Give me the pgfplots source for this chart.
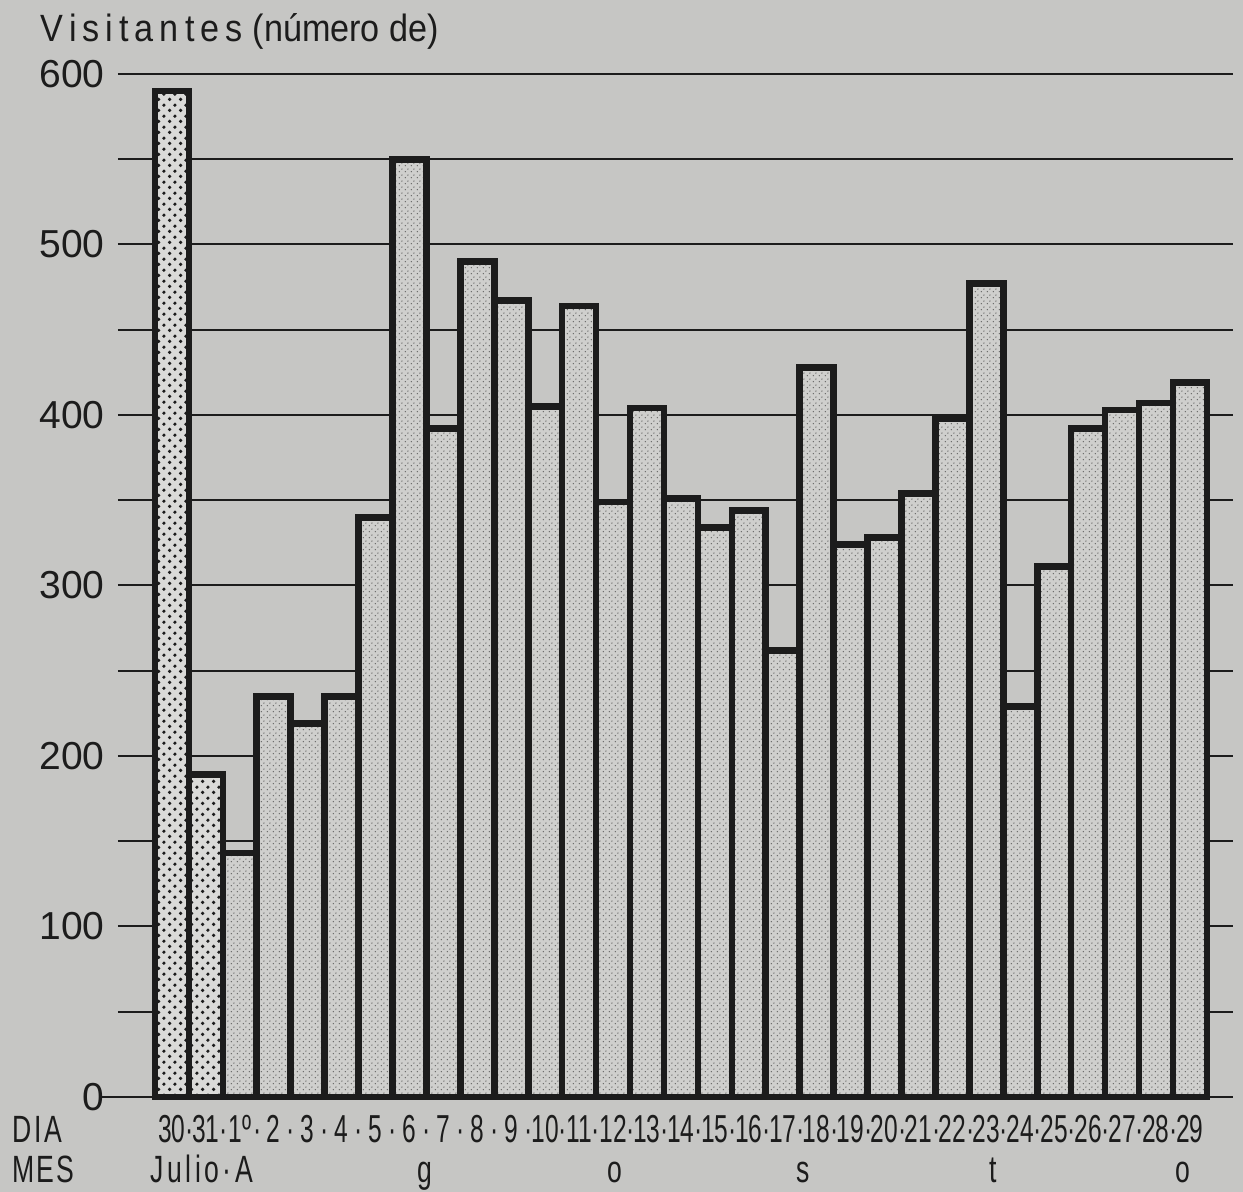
\documentclass[border=0pt]{standalone}
\usepackage{fontspec}
\setmainfont{Liberation Sans}
\newfontfamily\cond[FakeStretch=0.7]{Liberation Sans}
\newfontfamily\daysfont[FakeStretch=0.63]{Liberation Sans}
\newfontfamily\titlefont[FakeStretch=0.9]{Liberation Sans}
\usepackage{pgfplots}
\pgfplotsset{compat=1.18}
\usetikzlibrary{patterns.meta}
\definecolor{paper}{RGB}{198,198,196}
\definecolor{ink}{RGB}{28,28,28}
\definecolor{barfill}{RGB}{207,207,205}
\definecolor{barfillB}{RGB}{218,218,216}
\definecolor{dotcol}{RGB}{100,100,100}
\tikzdeclarepattern{
  name=bigdots,
  type=uncolored,
  bounding box={(0pt,0pt) and (5.6pt,5.6pt)},
  tile size={(5.6pt,5.6pt)},
  code={
    \pgfpathcircle{\pgfpoint{1.4pt}{1.4pt}}{0.95pt}
    \pgfpathcircle{\pgfpoint{4.2pt}{4.2pt}}{0.95pt}
    \pgfusepath{fill}
  }
}
\tikzdeclarepattern{
  name=finedots,
  type=uncolored,
  bounding box={(0pt,0pt) and (2.8pt,2.8pt)},
  tile size={(2.8pt,2.8pt)},
  code={
    \pgfpathcircle{\pgfpoint{0.7pt}{0.7pt}}{0.38pt}
    \pgfpathcircle{\pgfpoint{2.1pt}{2.1pt}}{0.38pt}
    \pgfusepath{fill}
  }
}
\newcommand{\lk}{\kern3pt}
\newcommand{\sepd}{\rlap{·}}
\newcommand{\sepe}{\rlap{\kern3.1pt·}}
\newcommand{\sepo}{\rlap{\kern1pt·}}
\begin{document}
\begin{tikzpicture}
\fill[paper] (-59pt,-47.5pt) rectangle (562.5pt,548.5pt);
\useasboundingbox (-59pt,-47.5pt) rectangle (562.5pt,548.5pt);
\begin{axis}[
  at={(0pt,0pt)}, anchor=south west,
  scale only axis, width=557.5pt, height=511.5pt,
  xmin=-1.59, xmax=31.27, ymin=0, ymax=600,
  ybar, bar width=1, bar shift=0pt,
  clip=false,
  axis line style={draw=none},
  major tick length=0pt, minor tick length=0pt,
  ytick={0,100,...,600}, minor ytick={50,150,...,550},
  ymajorgrids, yminorgrids,
  major grid style={ink, line width=1pt},
  minor grid style={ink, line width=1pt},
  /pgf/number format/assume math mode=true,
  yticklabel style={font=\fontsize{19.5}{22}\selectfont, text=ink, anchor=east, inner sep=0pt, xshift=-6.5pt},
  xtick={0,...,30},
  xticklabels={30\sepd,31\sepd,1º\sepo,2\sepe,3\sepe,4\sepe,5\sepe,6\sepe,7\sepe,8\sepe,9\sepe,10\sepd,11\sepd,12\sepd,13\sepd,14\sepd,15\sepd,16\sepd,17\sepd,18\sepd,19\sepd,20\sepd,21\sepd,22\sepd,23\sepd,24\sepd,25\sepd,26\sepd,27\sepd,28\sepd,29},
  xticklabel style={font=\daysfont\fontsize{19.5}{22}\selectfont, text=ink, anchor=base, inner sep=0pt, yshift=-23pt},
]
\addplot[draw=ink, line width=3.3pt,
  preaction={fill=barfillB, postaction={pattern=bigdots, pattern color=ink}}]
  coordinates {(0,590) (1,189)};
\addplot[draw=ink, line width=3.3pt,
  preaction={fill=barfill, postaction={pattern=finedots, pattern color=dotcol}}]
  coordinates {
  (2,143) (3,235) (4,219) (5,235) (6,340) (7,550) (8,392) (9,490) (10,467)
  (11,405) (12,464) (13,349) (14,404) (15,351) (16,334) (17,344) (18,262)
  (19,428) (20,324) (21,328) (22,354) (23,398) (24,477) (25,229) (26,311)
  (27,392) (28,403) (29,407) (30,419)};
\node[anchor=base west, inner sep=0pt, text=ink, font=\cond\fontsize{19}{22}\selectfont, yshift=-43pt] at (axis cs:-0.65,0) {J\kern1.8pt u\kern1.8pt l\kern1.8pt i\kern1.8pt o\kern1.8pt ·\kern1.8pt A};
\node[anchor=base, inner sep=0pt, text=ink, font=\cond\fontsize{19}{22}\selectfont, yshift=-43pt] at (axis cs:7.46,0) {g};
\node[anchor=base, inner sep=0pt, text=ink, font=\cond\fontsize{19}{22}\selectfont, yshift=-43pt] at (axis cs:13.06,0) {o};
\node[anchor=base, inner sep=0pt, text=ink, font=\cond\fontsize{19}{22}\selectfont, yshift=-43pt] at (axis cs:18.6,0) {s};
\node[anchor=base, inner sep=0pt, text=ink, font=\cond\fontsize{19}{22}\selectfont, yshift=-43pt] at (axis cs:24.2,0) {t};
\node[anchor=base, inner sep=0pt, text=ink, font=\cond\fontsize{19}{22}\selectfont, yshift=-43pt] at (axis cs:29.8,0) {o};
\end{axis}
\draw[ink, line width=1pt] (-9pt,0pt) -- (0pt,0pt);
\node[anchor=base west, inner sep=0pt, text=ink, font=\cond\fontsize{19}{22}\selectfont] at (-53pt,-23pt) {D\kern1.5pt I\kern1.5pt A};
\node[anchor=base west, inner sep=0pt, text=ink, font=\cond\fontsize{19}{22}\selectfont] at (-53pt,-43pt) {M\kern1pt E\kern1pt S};
\node[anchor=base west, inner sep=0pt, text=ink] at (-39pt,527.5pt) {\titlefont\fontsize{19}{22}\selectfont V\lk i\lk s\lk i\lk t\lk a\lk n\lk t\lk e\lk s\kern5pt (número de)};
\end{tikzpicture}
\end{document}
